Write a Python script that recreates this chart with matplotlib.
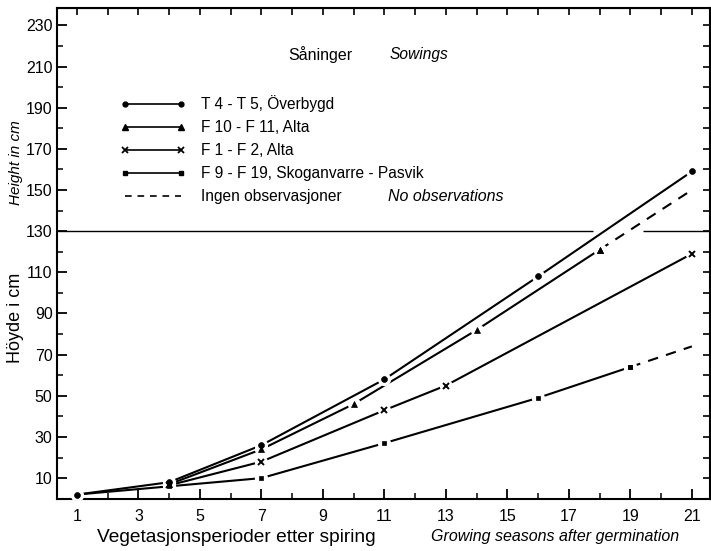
import matplotlib
matplotlib.use("Agg")
import matplotlib.pyplot as plt
from matplotlib.lines import Line2D

plt.rcParams["font.family"] = ["Liberation Sans", "DejaVu Sans"]

# Growing seasons after germination vs. height (cm)
t4_x = [1, 4, 7, 11, 16, 21]
t4_y = [2, 8, 26, 58, 108, 159]

f10_x = [4, 7, 10, 14, 18]
f10_y = [7, 24, 46, 82, 121]
f10_ext_x = [18, 21]
f10_ext_y = [121, 150]

f1_x = [4, 7, 11, 13, 21]
f1_y = [6.5, 18, 43, 55, 119]

f9_x = [1, 4, 7, 11, 16, 19]
f9_y = [2, 6, 10, 27, 49, 64]
f9_ext_x = [19, 21]
f9_ext_y = [64, 74]

x_ticks = list(range(1, 22, 2))
y_ticks = list(range(10, 231, 20))

legend_labels = [
    "T 4 - T 5, Överbygd",
    "F 10 - F 11, Alta",
    "F 1 - F 2, Alta",
    "F 9 - F 19, Skoganvarre - Pasvik",
    "Ingen observasjoner",
]

ref_level = 130
ref_gap = (17.8, 19.4)

W, H = 711, 551
fig = plt.figure(figsize=(W / 100, H / 100), dpi=100)
L, R, B, T = 56.7, 710.0, 499.3, 8.3
ax = fig.add_axes([L / W, 1 - B / H, (R - L) / W, (B - T) / H])
ax.set_xlim(0.34, 21.59)
ax.set_ylim(-0.3, 238.3)

lw = 1.5
HALO = 8.5
# reference line at 130 cm, broken where the curves pass
ax.hlines(ref_level, ax.get_xlim()[0], ref_gap[0], color="black", lw=1.0, zorder=1)
ax.hlines(ref_level, ref_gap[1], ax.get_xlim()[1], color="black", lw=1.0, zorder=1)


def markers(xs, ys, marker, ms):
    ax.plot(xs, ys, ls="none", marker="o", ms=HALO, color="white",
            markeredgecolor="white", zorder=3)
    ax.plot(xs, ys, ls="none", marker=marker, ms=ms, color="black",
            markeredgewidth=1.4 if marker == "x" else 0.5, zorder=4)


def series(xs, ys, marker, ms, skip_first=False):
    ax.plot(xs, ys, color="black", lw=lw, zorder=2, solid_capstyle="butt")
    if skip_first:
        markers(xs[1:], ys[1:], marker, ms)
    else:
        markers(xs, ys, marker, ms)


series(t4_x, t4_y, "o", 4.2)
series(f10_x, f10_y, "^", 4.5)
series(f1_x, f1_y, "x", 4.2)
series(f9_x, f9_y, "s", 3.5, skip_first=True)
ax.plot(f10_ext_x, f10_ext_y, color="black", lw=lw, ls=(0, (5, 4)), zorder=2)
ax.plot(f9_ext_x, f9_ext_y, color="black", lw=lw, ls=(0, (5, 4)), zorder=2)
markers(f10_x[-1:], f10_y[-1:], "^", 4.5)
markers(f9_x[-1:], f9_y[-1:], "s", 3.5)

# axes and ticks
for s in ax.spines.values():
    s.set_linewidth(1.5)
ax.set_xticks(x_ticks)
ax.set_xticks(range(2, 21, 2), minor=True)
ax.set_yticks(y_ticks)
ax.set_yticks(range(20, 231, 20), minor=True)
ax.tick_params(axis="both", which="major", direction="in", length=7, width=1.3,
               labelsize=11.5, top=False, right=False)
ax.tick_params(axis="both", which="minor", direction="in", length=4, width=1.1,
               top=False, right=False)
ax.tick_params(axis="x", which="major", pad=7)
ax.tick_params(axis="y", which="major", pad=3)

top = ax.secondary_xaxis("top")
top.set_xticks(range(1, 22))
top.tick_params(direction="in", length=5, width=1.2, labeltop=False)
right = ax.secondary_yaxis("right")
right.set_yticks(range(10, 231, 10))
right.tick_params(direction="in", length=5, width=1.2, labelright=False)

# legend
handles = [
    Line2D([], [], color="black", lw=1.2, marker="o", ms=3.5),
    Line2D([], [], color="black", lw=1.2, marker="^", ms=4),
    Line2D([], [], color="black", lw=1.2, marker="x", ms=4, markeredgewidth=1.3),
    Line2D([], [], color="black", lw=1.2, marker="s", ms=3),
    Line2D([], [], color="black", lw=1.2, ls=(0, (4, 3.5))),
]
leg = ax.legend(handles, legend_labels, loc="upper left",
                bbox_to_anchor=((120 - L) / (R - L), (B - 95) / (B - T)),
                frameon=False, numpoints=2, handlelength=4.2, handletextpad=1.0,
                labelspacing=0.52, fontsize=11.2, borderpad=0.0, borderaxespad=0.0)

ax.text((288 - L) / (R - L), (B - 55) / (B - T), "Såninger", fontsize=11.5,
        transform=ax.transAxes, va="center", ha="left")
ax.text((390 - L) / (R - L), (B - 55) / (B - T), "Sowings", fontsize=11.2,
        style="italic", transform=ax.transAxes, va="center", ha="left")

fig.canvas.draw()
last = leg.get_texts()[-1]
bb = last.get_window_extent()
y_mid = (bb.y0 + bb.y1) / 2 / fig.bbox.height
fig.text(388 / W, y_mid, "No observations", fontsize=11.5, style="italic",
         va="center", ha="left")

# axis titles
fig.text(236 / W, 1 - 537 / H, "Vegetasjonsperioder etter spiring", fontsize=13.8,
         ha="center", va="center")
fig.text(555 / W, 1 - 537 / H, "Growing seasons after germination", fontsize=11.5,
         style="italic", ha="center", va="center")
fig.text(16 / W, 1 - 318 / H, "Höyde i cm", fontsize=13, rotation=90,
         ha="center", va="center")
fig.text(16 / W, 1 - 163 / H, "Height in cm", fontsize=11, style="italic",
         rotation=90, ha="center", va="center")

fig.savefig("out.png", dpi=100)
